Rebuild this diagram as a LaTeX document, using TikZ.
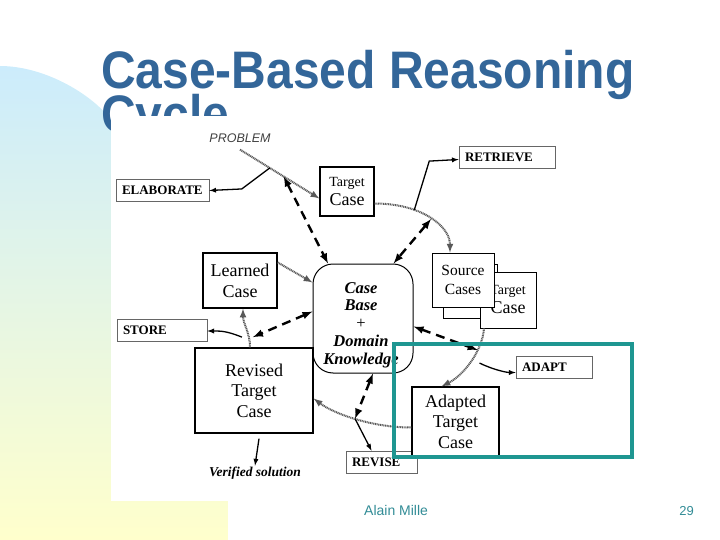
\documentclass[tikz,border=0pt]{standalone}
\usepackage{fontspec}
\setmainfont{Liberation Serif}
\newfontfamily\sansfam{Liberation Sans}
\definecolor{titleblue}{RGB}{51,102,153}
\definecolor{frameteal}{RGB}{30,150,145}
\definecolor{footteal}{RGB}{50,140,150}
\definecolor{bgblue}{RGB}{204,236,252}
\definecolor{bgyellow}{RGB}{255,255,204}
\newcommand{\fsz}[2]{\fontsize{#1}{#2}\selectfont}
\newcommand{\titlefont}{\sansfam\bfseries\fsz{48}{44}\lineskiplimit=-100pt\relax}

\tikzset{
  concept/.style={draw, line width=1.2pt, fill=white, align=center, inner sep=0pt},
  stepbox/.style={draw=black!60, line width=0.7pt, fill=white, inner xsep=6pt, inner ysep=0pt,
    minimum height=22pt, text height=8.8pt, text depth=0pt, align=left, font=\bfseries\fsz{13}{13}},
  flow/.style={draw=black!65, line width=2pt, dash pattern=on 1pt off 0.7pt, -latex},
  act/.style={draw, line width=1.3pt, -latex},
  know/.style={draw, line width=2.4pt, dash pattern=on 9pt off 6pt, latex-latex},
}

\begin{document}
\begin{tikzpicture}[x=1pt,y=-1pt]
  \useasboundingbox (0,0) rectangle (720,540);
  \shade[top color=bgblue, bottom color=bgyellow] (0,540) -- (0,66) .. controls (45,66) and (95,95) .. (115,125) -- (228,240) -- (228,540) -- cycle;

  \node[anchor=base west, inner sep=0pt, align=left, text=titleblue, font=\titlefont] (title) at (101,133)
    {\scalebox{1}[1.1]{Case-Based Reasoning}\\\scalebox{1}[1.1]{Cycle}};
  \fill[white] (111,116) rectangle (640,501);

  \node[font=\sansfam\itshape\fsz{12.5}{13}, text=black!75, inner sep=1pt] (problem) at (240,138) {PROBLEM};

  \foreach \nm/\x/\y/\tw/\txt in {elabbox/162.5/190.5/81/ELABORATE, retrieve/507/157.5/84/RETRIEVE,
      store/162/330/78/STORE, adapt/554/367.5/64/ADAPT, revise/381.5/462/59/REVISE}
    \node[stepbox, text width=\tw pt] (\nm) at (\x,\y) {\txt};

  \node[concept, minimum width=54pt, minimum height=49pt] (target) at (347,191.5) {{\fsz{14}{16}Target}\\[3pt]{\fsz{18}{18}Case}};
  \node[draw, line width=1pt, rounded corners=20pt, minimum width=100pt, minimum height=109pt, inner sep=0pt] (casebase) at (363,318.5) {};
  \node[font=\bfseries\itshape\fsz{16.5}{17.75}, align=center, inner sep=0pt] (kbtext) at (361,325) {Case\\Base\\{\mdseries\upshape +}\\Domain\\Knowledge};
  \node[concept, minimum width=74pt, minimum height=55pt, font=\fsz{18}{21}] (learned) at (240,280.5) {Learned\\Case};
  \node[concept, minimum width=118pt, minimum height=85pt, font=\fsz{18}{20.5}] (revised) at (254,390.5) {Revised\\Target\\Case};
  \node[concept, minimum width=87pt, minimum height=69pt, font=\fsz{18}{20.5}] (adapted) at (455.5,421.5) {Adapted\\Target\\Case};
  \node[concept, line width=0.8pt, minimum width=54pt, minimum height=54pt] (srcback) at (470,291) {};
  \node[concept, line width=0.8pt, minimum width=56pt, minimum height=56pt, font=\fsz{18}{19}] (tsmall) at (508,300) {{\fsz{14}{16}Target}\\Case};
  \node[concept, line width=0.8pt, minimum width=62pt, minimum height=54pt, font=\fsz{15.5}{19}] (source) at (463,280) {Source\\Cases};
  \node[font=\bfseries\itshape\fsz{13.5}{14}, inner sep=1pt] (verified) at (255,473) {Verified solution};

  \draw[flow] ([yshift=-6pt]problem.south) -- coordinate[pos=0.375] (elab) coordinate[pos=0.55] (kbela) ([yshift=-7pt]target.west);
  \draw[act] (elab) -- ++(-28,21) -- (elabbox.east);
  \draw[flow] ([yshift=-12pt]target.east) .. controls +(46,0) and +(0,-27) .. coordinate[pos=0.33] (ret) coordinate[pos=0.52] (kbret) ([xshift=-13pt]source.north);
  \draw[act] (ret) -- ++(15,-49) -- ([yshift=-2pt]retrieve.west);
  \draw[know] (kbela) -- ([xshift=-35pt]casebase.north);
  \draw[know] (kbret) -- ([xshift=-20pt]casebase.north east);

  \draw[flow] ([yshift=-10pt]learned.north east) -- ([yshift=36pt]casebase.west);
  \draw[flow] ([xshift=-4pt]revised.north) .. controls +(0,-15) and +(0,15) .. coordinate[pos=0.25] (storept) ([xshift=3pt]learned.south);
  \draw[act] ([xshift=-7pt]storept) .. controls +(-15,-6) and +(14,0) .. ([yshift=-1pt]store.east);
  \draw[know] ([yshift=7pt]casebase.west) -- ([xshift=4pt]storept);
  \draw[act] ([xshift=5pt,yshift=-5pt]revised.south) -- (verified.north);

  \draw[flow] ([yshift=-6pt]adapted.west) .. controls +(-40,0) and +(20,15) .. coordinate[pos=0.5] (revpt) ([yshift=-8pt]revised.east);
  \draw[act] (revpt) -- ([xshift=-10pt]revise.north);
  \draw[know] ([xshift=10pt]casebase.south) -- (revpt);

  \draw[flow] ([xshift=-24pt]tsmall.south) .. controls +(-2,25) and +(20,-10) .. coordinate[pos=0.3] (kbadp) coordinate[pos=0.5] (adpt) ([xshift=-14pt]adapted.north);
  \draw[act] ([xshift=10pt]adpt) .. controls +(12,6) and +(-10,0) .. ([yshift=-5pt]adapt.west);
  \draw[know] ([yshift=-8pt]casebase.east) -- (kbadp);

  \draw[frameteal, line width=4pt] (394,344) rectangle (632,457);

  \node[anchor=base west, inner sep=0pt, text=footteal, font=\sansfam\fsz{14}{14}] (author) at (364,515) {Alain Mille};
  \node[anchor=base east, inner sep=0pt, text=footteal, font=\sansfam\fsz{13}{13}] (pagenum) at (694,515) {29};
\end{tikzpicture}
\end{document}
